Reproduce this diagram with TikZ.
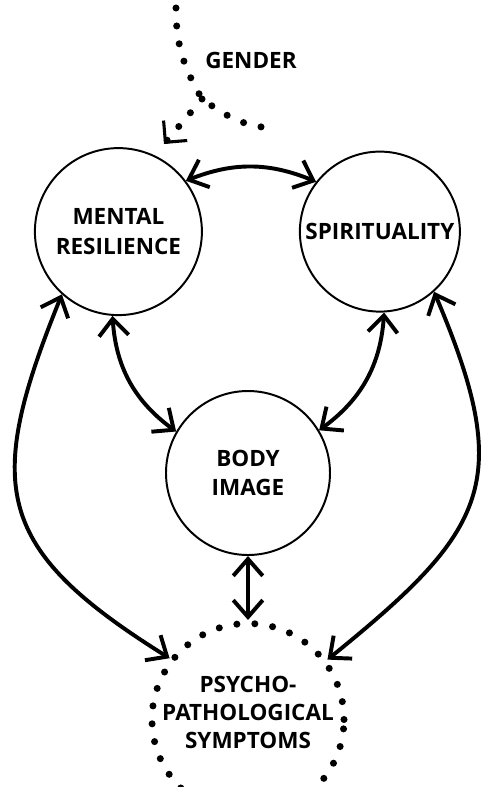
\documentclass[tikz,border=0pt]{standalone}
\usepackage{fontspec}
\setmainfont{Open Sans}
\usetikzlibrary{positioning,arrows.meta}

\begin{document}
\begin{tikzpicture}[
  txt/.style={align=center,font=\bfseries\fontsize{16}{21}\selectfont},
  factor/.style={circle,draw=black,line width=1.4pt,inner sep=0pt,txt},
  dotline/.style={line width=5pt,line cap=round,dash pattern=on 0pt off 12.8pt},
  link/.style={line width=2.8pt,{Straight Barb[length=12pt,width=21pt]}-{Straight Barb[length=12pt,width=21pt]}}
]
\useasboundingbox (0,0) rectangle (12.025,-19.675);

% the four factors
\node[factor,minimum size=4.175cm] (mr) at (2.96,-5.79) {MENTAL\\RESILIENCE};
\node[factor,minimum size=4cm,right=2.4cm of mr] (sp) {SPIRITUALITY};
\node[factor,minimum size=4.1cm] (bi) at (6.2,-11.825) {BODY\\IMAGE};
\node[circle,draw=black,dotline,minimum size=4.8cm,below=1.6cm of bi] (ps) {};
\node[txt,font=\bfseries\fontsize{16}{20}\selectfont] (pstext) at ([yshift=0.175cm]ps.center) {PSYCHO-\\PATHOLOGICAL\\SYMPTOMS};

% gender
\coordinate (gtop) at (4.4,-0.2);
\coordinate (gfork) at (5.05,-2.475);
\coordinate (gend) at (6.75,-3.2);
\coordinate (gtip) at (4.1,-3.6);
\node[txt] (gender) at (6.275,-1.5) {GENDER};
\draw[dotline] (gtop) to[out=-90,in=120] (gfork) to[out=-35,in=175] (gend);
\draw[dotline,-{Straight Barb[length=11pt,width=22pt,line width=2.2pt]}] (gfork) -- (gtip);

% links
\draw[link] (mr.37) to[bend left=22] (sp.142);
\draw[link] (mr.266) to[bend right=25] (bi.150);
\draw[link] (sp.273) to[bend left=25] (bi.31);
\draw[link] (mr.228) to[out=248,in=148,looseness=1.4] (ps.142);
\draw[link] (sp.-48) to[out=-67,in=39,looseness=1.38] (ps.37);
\draw[link] (bi.south) -- (ps.north);
\end{tikzpicture}
\end{document}
